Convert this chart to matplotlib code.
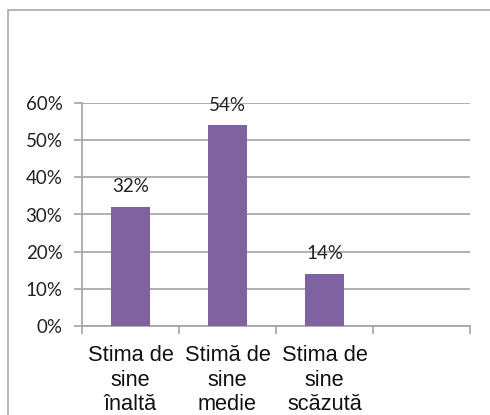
import matplotlib.pyplot as plt
from matplotlib.patches import Rectangle
from matplotlib.ticker import FixedLocator, PercentFormatter

# data
categories = ['Stima de\nsine\nînaltă', 'Stimă de\nsine\nmedie', 'Stima de\nsine\nscăzută', '']
values = [32, 54, 14, None]
labels = ['32%', '54%', '14%', '']
y_ticks = [0, 10, 20, 30, 40, 50, 60]

bar_color = '#7F63A1'
grey = '#A3A3A3'

fig = plt.figure(figsize=(4.9, 4.15), dpi=100)
W, H = 490, 415

# outer chart border (runs off the right and bottom edges)
fig.add_artist(Rectangle((8 / W, -0.5), 2, (H - 10) / H + 0.5, transform=fig.transFigure,
                         fill=False, edgecolor=grey, linewidth=1.1))

ax = fig.add_axes([82 / W, (H - 326) / H, 388 / W, 223 / H])

x = list(range(len(categories)))
for i, v in enumerate(values):
    if v is None:
        continue
    ax.bar(i, v, width=0.4, color=bar_color, zorder=3)
    ax.annotate(labels[i], (i, v), xytext=(0, 14.5), textcoords='offset points',
                ha='center', va='center', fontsize=13.5, family='Lato', color='#222222')

ax.set_xlim(-0.5, len(categories) - 0.5)
ax.set_ylim(0, 60)

ax.set_yticks(y_ticks)
ax.yaxis.set_major_formatter(PercentFormatter(decimals=0))
ax.yaxis.grid(True, color=grey, linewidth=1.2, zorder=0)

# category boundary ticks, labels at the centres
ax.xaxis.set_major_locator(FixedLocator([i - 0.5 for i in range(len(categories) + 1)]))
ax.xaxis.set_major_formatter(plt.NullFormatter())
ax.xaxis.set_minor_locator(FixedLocator(x))
ax.set_xticklabels(categories, minor=True)
ax.tick_params(axis='x', which='major', length=6, width=1.2, color=grey, direction='out')
ax.tick_params(axis='x', which='minor', length=0, pad=14)
ax.tick_params(axis='y', length=6, width=1.2, color=grey, direction='out', pad=8)

for lab in ax.get_xticklabels(minor=True):
    lab.set_family('Liberation Sans')
    lab.set_fontsize(15.7)
    lab.set_linespacing(1.2)
    lab.set_color('#111111')
    lab.set_verticalalignment('top')
for lab in ax.get_yticklabels():
    lab.set_family('Lato')
    lab.set_fontsize(13.5)
    lab.set_color('#222222')

for side in ['top', 'right']:
    ax.spines[side].set_visible(False)
for side in ['left', 'bottom']:
    ax.spines[side].set_color(grey)
    ax.spines[side].set_linewidth(1.2)

fig.savefig('out.png', dpi=100)
